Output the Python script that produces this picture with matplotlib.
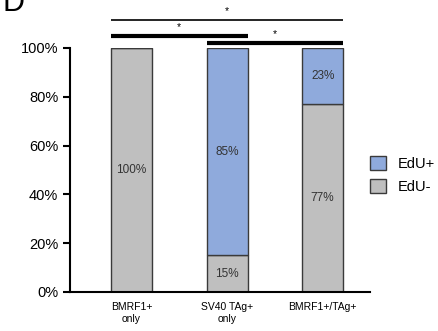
import matplotlib
matplotlib.use("Agg")
import matplotlib.pyplot as plt
import matplotlib.patches as mpatches
import numpy as np

# ── Data ──────────────────────────────────────────────────────────────────────
groups = ["BMRF1+\nonly", "SV40 TAg+\nonly", "BMRF1+/TAg+"]
edu_neg = [100, 15, 77]
edu_pos = [0, 85, 23]
# significance brackets: (start group, end group, line height, linewidth)
brackets = [(0, 2, 111.5, 1.2), (0, 1, 104.9, 3.0), (1, 2, 102.0, 3.0)]

BLUE = "#8FAADC"
GREY = "#BFBFBF"
EDGE = "#3a3a3a"

plt.rcParams.update({"font.family": "Liberation Sans", "font.size": 10})

fig = plt.figure(figsize=(4.38, 3.31), dpi=100)
ax = fig.add_axes([0.160, 0.118, 0.685, 0.737])

x = np.arange(len(groups))
w = 0.43
ax.bar(x, edu_neg, width=w, color=GREY, edgecolor=EDGE, linewidth=1.0)
ax.bar(x, edu_pos, width=w, bottom=edu_neg, color=BLUE, edgecolor=EDGE, linewidth=1.0)

for i in range(len(groups)):
    if edu_neg[i] > 0:
        ax.text(x[i], edu_neg[i] / 2, f"{edu_neg[i]}%", ha="center", va="center",
                fontsize=8.5, color="#333333")
    if edu_pos[i] > 0:
        ax.text(x[i], edu_neg[i] + edu_pos[i] / 2, f"{edu_pos[i]}%", ha="center",
                va="center", fontsize=8.5, color="#333333")

for a, b, h, lw in brackets:
    ax.plot([x[a] - w / 2, x[b] + w / 2], [h, h], color="black", lw=lw,
            clip_on=False, solid_capstyle="butt")
    ax.text((x[a] + x[b]) / 2, h + 1.6, "*", ha="center", va="bottom",
            fontsize=7.5, color="black", clip_on=False)

ax.set_xlim(-0.644, 2.497)
ax.set_ylim(0, 100)
ax.set_yticks([0, 20, 40, 60, 80, 100])
ax.set_yticklabels([f"{v}%" for v in [0, 20, 40, 60, 80, 100]], fontsize=10.5)
ax.set_xticks(x)
ax.set_xticklabels(groups, fontsize=7.5, linespacing=1.3)
ax.tick_params(axis="x", length=0, pad=7)
ax.tick_params(axis="y", length=5, width=1.5, direction="out")
for s in ["top", "right"]:
    ax.spines[s].set_visible(False)
ax.spines["left"].set_linewidth(1.5)
ax.spines["bottom"].set_linewidth(1.5)

handles = [mpatches.Patch(facecolor=BLUE, edgecolor=EDGE, label="EdU+"),
           mpatches.Patch(facecolor=GREY, edgecolor=EDGE, label="EdU-")]
fig.legend(handles=handles, loc="center left", bbox_to_anchor=(0.815, 0.47),
           frameon=False, fontsize=10.5, handlelength=1.1, handleheight=1.1,
           handletextpad=0.8, labelspacing=0.55)

fig.text(0.005, 1.035, "D", fontsize=22, ha="left", va="top")

fig.savefig("out.png", dpi=100)
